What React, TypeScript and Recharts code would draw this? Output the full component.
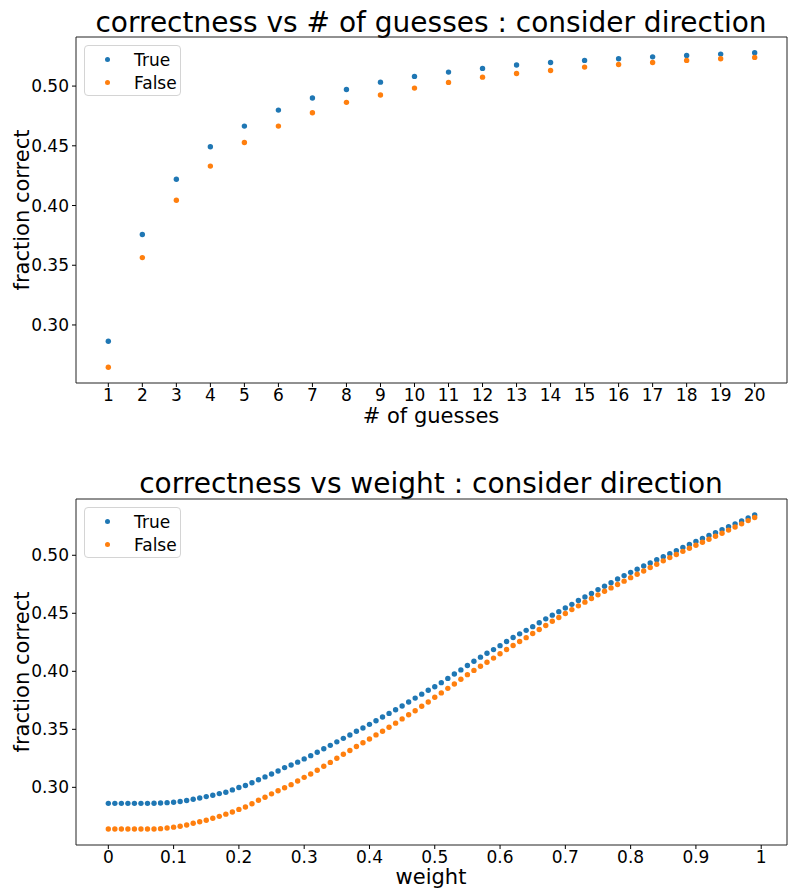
import React from "react";
import {
  ScatterChart,
  Scatter,
  XAxis,
  YAxis,
  ReferenceArea,
  Legend,
} from "recharts";

// ---- data -------------------------------------------------------------
const guesses = [1, 2, 3, 4, 5, 6, 7, 8, 9, 10, 11, 12, 13, 14, 15, 16, 17, 18, 19, 20];
const trueByGuesses = [
  0.2863, 0.3757, 0.422, 0.4492, 0.4665, 0.4799, 0.49, 0.4972, 0.5033, 0.5081,
  0.5117, 0.5148, 0.5176, 0.5198, 0.5215, 0.5229, 0.5245, 0.5257, 0.5268, 0.5279,
];
const falseByGuesses = [
  0.2646, 0.3564, 0.4044, 0.433, 0.4528, 0.4665, 0.4777, 0.4864, 0.4925, 0.4983,
  0.5031, 0.5075, 0.5106, 0.5131, 0.5159, 0.5181, 0.5198, 0.5215, 0.5229, 0.524,
];

const weights = [
  0, 0.01, 0.02, 0.03, 0.04, 0.05, 0.06, 0.07, 0.08, 0.09,
  0.1, 0.11, 0.12, 0.13, 0.14, 0.15, 0.16, 0.17, 0.18, 0.19,
  0.2, 0.21, 0.22, 0.23, 0.24, 0.25, 0.26, 0.27, 0.28, 0.29,
  0.3, 0.31, 0.32, 0.33, 0.34, 0.35, 0.36, 0.37, 0.38, 0.39,
  0.4, 0.41, 0.42, 0.43, 0.44, 0.45, 0.46, 0.47, 0.48, 0.49,
  0.5, 0.51, 0.52, 0.53, 0.54, 0.55, 0.56, 0.57, 0.58, 0.59,
  0.6, 0.61, 0.62, 0.63, 0.64, 0.65, 0.66, 0.67, 0.68, 0.69,
  0.7, 0.71, 0.72, 0.73, 0.74, 0.75, 0.76, 0.77, 0.78, 0.79,
  0.8, 0.81, 0.82, 0.83, 0.84, 0.85, 0.86, 0.87, 0.88, 0.89,
  0.9, 0.91, 0.92, 0.93, 0.94, 0.95, 0.96, 0.97, 0.98, 0.99,
];
const trueByWeight = [
  0.2862, 0.2862, 0.2862, 0.2862, 0.2862, 0.2862, 0.2862, 0.2863, 0.2865, 0.2868,
  0.2871, 0.2878, 0.2886, 0.2897, 0.2908, 0.292, 0.2932, 0.2946, 0.2958, 0.2978,
  0.2998, 0.3016, 0.304, 0.3066, 0.309, 0.3115, 0.3141, 0.317, 0.3192, 0.3217,
  0.3245, 0.3273, 0.3303, 0.3332, 0.3362, 0.3392, 0.3422, 0.3451, 0.3483, 0.3512,
  0.3543, 0.3574, 0.3606, 0.3637, 0.3669, 0.3701, 0.3735, 0.3769, 0.3803, 0.3837,
  0.3867, 0.3902, 0.3939, 0.3977, 0.4012, 0.405, 0.4087, 0.4122, 0.4155, 0.4187,
  0.4221, 0.4257, 0.4291, 0.4323, 0.4353, 0.4385, 0.4418, 0.4452, 0.4484, 0.4514,
  0.4545, 0.4577, 0.461, 0.464, 0.4671, 0.4704, 0.4733, 0.4763, 0.4795, 0.4825,
  0.4853, 0.488, 0.4908, 0.4934, 0.4961, 0.4988, 0.5014, 0.504, 0.5067, 0.5093,
  0.5119, 0.5144, 0.5171, 0.5195, 0.5221, 0.5246, 0.5271, 0.5296, 0.5322, 0.5348,
];
const falseByWeight = [
  0.2641, 0.2641, 0.2641, 0.2641, 0.2641, 0.2641, 0.2641, 0.2641, 0.2644, 0.2649,
  0.2657, 0.2665, 0.2676, 0.2691, 0.2704, 0.2716, 0.2734, 0.275, 0.2769, 0.2788,
  0.281, 0.2831, 0.2859, 0.2889, 0.2914, 0.2944, 0.2971, 0.2997, 0.3023, 0.3054,
  0.3086, 0.3115, 0.3147, 0.3182, 0.3215, 0.3251, 0.3285, 0.3318, 0.3352, 0.3384,
  0.3416, 0.3452, 0.3484, 0.3518, 0.3553, 0.359, 0.3625, 0.366, 0.3699, 0.3736,
  0.3776, 0.3814, 0.3853, 0.3891, 0.3932, 0.3971, 0.4008, 0.4043, 0.4078, 0.4114,
  0.4151, 0.4188, 0.4223, 0.4257, 0.429, 0.4326, 0.436, 0.4395, 0.4431, 0.4464,
  0.4498, 0.4532, 0.4564, 0.4596, 0.4627, 0.4659, 0.469, 0.4719, 0.4748, 0.4777,
  0.4807, 0.4836, 0.4865, 0.4894, 0.4923, 0.4952, 0.498, 0.5007, 0.5034, 0.506,
  0.5086, 0.5112, 0.5138, 0.5164, 0.519, 0.5217, 0.5244, 0.5271, 0.5299, 0.5326,
];

const guessTicks = guesses;
const weightTicks = [0, 0.1, 0.2, 0.3, 0.4, 0.5, 0.6, 0.7, 0.8, 0.9, 1];
const fractionTicks = [0.3, 0.35, 0.4, 0.45, 0.5];

// ---- styling ------------------------------------------------------------
const BLUE = "#1f77b4";
const ORANGE = "#ff7f0e";
const FONT = "DejaVu Sans";
const W = 788;
const H = 444;
const TICK_FONT = 17;
const LABEL_FONT = 21;

const toPoints = (xs: number[], ys: number[]) => xs.map((x, i) => ({ x, y: ys[i] }));

const dot = (color: string) => (props: any) =>
  props.cx == null ? <g /> : <circle cx={props.cx} cy={props.cy} r={2.7} fill={color} />;

const LegendBox = () => (
  <div
    style={{
      width: 97,
      height: 51,
      boxSizing: "border-box",
      border: "1px solid #d4d4d4",
      borderRadius: 4,
      background: "rgba(255,255,255,0.85)",
      position: "relative",
      fontFamily: FONT,
      fontSize: 17,
      color: "#000",
    }}
  >
    {[
      { name: "True", color: BLUE, top: 14 },
      { name: "False", color: ORANGE, top: 37 },
    ].map((e) => (
      <React.Fragment key={e.name}>
        <span
          style={{
            position: "absolute",
            left: 20,
            top: e.top - 3,
            width: 5.4,
            height: 5.4,
            borderRadius: "50%",
            background: e.color,
          }}
        />
        <span style={{ position: "absolute", left: 49, top: e.top - 10, lineHeight: "20px" }}>
          {e.name}
        </span>
      </React.Fragment>
    ))}
  </div>
);

type PanelProps = {
  title: string;
  xLabel: string;
  xDomain: [number, number];
  yDomain: [number, number];
  xTicks: number[];
  trueData: { x: number; y: number }[];
  falseData: { x: number; y: number }[];
  top: number;
  bottom: number;
  titleY: number;
  xLabelY: number;
};

const Panel = (p: PanelProps) => {
  const plotTop = p.top;
  const plotBottom = H - p.bottom - 30;
  const midY = (plotTop + plotBottom) / 2;
  return (
    <ScatterChart
      width={W}
      height={H}
      margin={{ top: p.top, right: 1, bottom: p.bottom, left: 16 }}
      style={{ fontFamily: FONT }}
    >
      <XAxis
        type="number"
        dataKey="x"
        domain={p.xDomain}
        ticks={p.xTicks}
        allowDataOverflow
        interval={0}
        height={30}
        axisLine={false}
        tickSize={4}
        tickMargin={2}
        tickLine={{ stroke: "#000" }}
        tickFormatter={(v: number) => String(v)}
        tick={{ fontSize: TICK_FONT, fill: "#000", fontFamily: FONT }}
      />
      <YAxis
        type="number"
        dataKey="y"
        domain={p.yDomain}
        ticks={fractionTicks}
        allowDataOverflow
        interval={0}
        width={60}
        axisLine={false}
        tickSize={4}
        tickMargin={3}
        tickLine={{ stroke: "#000" }}
        tickFormatter={(v: number) => v.toFixed(2)}
        tick={{ fontSize: TICK_FONT, fill: "#000", fontFamily: FONT }}
      />
      <ReferenceArea
        x1={p.xDomain[0]}
        x2={p.xDomain[1]}
        y1={p.yDomain[0]}
        y2={p.yDomain[1]}
        fill="none"
        fillOpacity={0}
        stroke="#222"
        strokeWidth={1}
        ifOverflow="visible"
      />
      <Scatter name="True" data={p.trueData} fill={BLUE} shape={dot(BLUE)} isAnimationActive={false} />
      <Scatter name="False" data={p.falseData} fill={ORANGE} shape={dot(ORANGE)} isAnimationActive={false} />
      <Legend
        layout="vertical"
        align="center"
        verticalAlign="middle"
        wrapperStyle={{ left: 84, top: plotTop + 8, width: 97, height: 51 }}
        content={() => <LegendBox />}
      />
      <text x={431} y={p.titleY} textAnchor="middle" fontSize={28} fontFamily={FONT} fill="#000">
        {p.title}
      </text>
      <text x={431} y={p.xLabelY} textAnchor="middle" fontSize={LABEL_FONT} fontFamily={FONT} fill="#000">
        {p.xLabel}
      </text>
      <text
        x={29}
        y={midY}
        transform={`rotate(-90 29 ${midY})`}
        textAnchor="middle"
        fontSize={LABEL_FONT}
        fontFamily={FONT}
        fill="#000"
      >
        fraction correct
      </text>
    </ScatterChart>
  );
};

export default function App() {
  return (
    <div style={{ position: "absolute", left: 0, top: 0, width: W, height: 888, background: "#fff" }}>
      <Panel
        title="correctness vs # of guesses : consider direction"
        xLabel="# of guesses"
        xDomain={[0.05, 20.95]}
        yDomain={[0.2514, 0.5411]}
        xTicks={guessTicks}
        trueData={toPoints(guesses, trueByGuesses)}
        falseData={toPoints(guesses, falseByGuesses)}
        top={37}
        bottom={31}
        titleY={32}
        xLabelY={423}
      />
      <Panel
        title="correctness vs weight : consider direction"
        xLabel="weight"
        xDomain={[-0.0495, 1.0395]}
        yDomain={[0.2503, 0.5485]}
        xTicks={weightTicks}
        trueData={toPoints(weights, trueByWeight)}
        falseData={toPoints(weights, falseByWeight)}
        top={55}
        bottom={13}
        titleY={49}
        xLabelY={440}
      />
    </div>
  );
}
